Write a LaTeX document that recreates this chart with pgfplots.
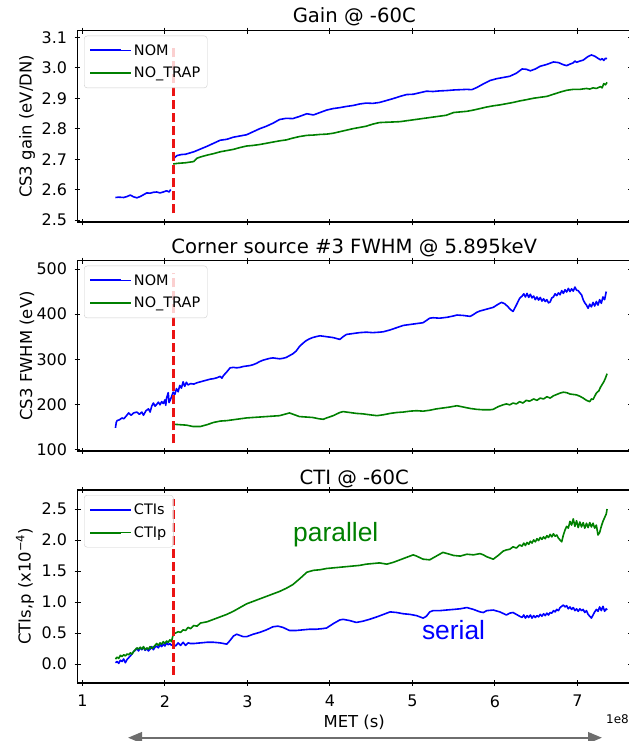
\documentclass[border=0pt]{standalone}
\usepackage{pgfplots}
\pgfplotsset{compat=1.18}
\usepackage{pgfplotstable}
\usetikzlibrary{arrows.meta}
\usepackage{fontspec}
\setmainfont{DejaVu Sans}
\setsansfont{DejaVu Sans}
\newfontfamily\arialfont{Liberation Sans}
\definecolor{mplblue}{RGB}{0,0,255}
\definecolor{mplgreen}{RGB}{0,128,0}
\definecolor{brkred}{RGB}{235,20,20}
\definecolor{arrowgray}{RGB}{110,110,110}
\definecolor{legendgray}{RGB}{204,204,204}

\pgfplotstableread{
x y
1.40 2.574
1.44 2.575
1.50 2.574
1.54 2.577
1.58 2.582
1.62 2.576
1.66 2.573
1.70 2.577
1.74 2.583
1.78 2.589
1.82 2.588
1.86 2.591
1.90 2.592
1.94 2.589
1.98 2.592
2.02 2.596
2.05 2.592
2.07 2.600
2.09 nan
2.10 2.698
2.12 2.706
2.15 2.712
2.20 2.715
2.25 2.716
2.30 2.720
2.35 2.724
2.43 2.733
2.51 2.742
2.59 2.752
2.67 2.762
2.75 2.765
2.83 2.772
2.91 2.776
2.99 2.780
3.07 2.790
3.15 2.800
3.23 2.808
3.31 2.818
3.39 2.830
3.47 2.834
3.55 2.833
3.63 2.840
3.72 2.849
3.80 2.845
3.88 2.853
3.96 2.861
4.04 2.866
4.12 2.869
4.20 2.873
4.28 2.876
4.36 2.881
4.44 2.884
4.52 2.883
4.60 2.886
4.68 2.892
4.77 2.899
4.85 2.906
4.93 2.912
5.01 2.913
5.09 2.918
5.17 2.923
5.25 2.922
5.33 2.924
5.41 2.925
5.50 2.927
5.58 2.928
5.66 2.929
5.72 2.928
5.78 2.935
5.86 2.947
5.94 2.958
6.02 2.964
6.10 2.968
6.18 2.972
6.26 2.982
6.33 2.996
6.38 2.995
6.43 2.990
6.49 2.996
6.55 3.005
6.63 3.011
6.71 3.019
6.77 3.017
6.83 3.010
6.87 3.007
6.91 3.012
6.95 3.016
6.97 3.022
6.99 3.018
7.03 3.022
7.07 3.025
7.13 3.037
7.17 3.042
7.21 3.038
7.25 3.031
7.28 3.026
7.30 3.030
7.32 3.024
7.34 3.031
7.36 3.030
}\gainnom

\pgfplotstableread{
x y
2.10 2.684
2.15 2.686
2.20 2.687
2.25 2.688
2.30 2.690
2.35 2.692
2.39 2.703
2.43 2.707
2.51 2.713
2.59 2.718
2.67 2.724
2.75 2.728
2.83 2.732
2.91 2.738
2.99 2.743
3.07 2.745
3.15 2.748
3.23 2.752
3.31 2.756
3.39 2.760
3.47 2.763
3.55 2.769
3.63 2.774
3.72 2.778
3.80 2.779
3.88 2.781
3.96 2.782
4.04 2.785
4.12 2.790
4.20 2.795
4.28 2.800
4.36 2.804
4.44 2.808
4.52 2.815
4.60 2.820
4.68 2.821
4.77 2.822
4.85 2.823
4.93 2.826
5.01 2.829
5.09 2.832
5.17 2.835
5.25 2.838
5.33 2.841
5.41 2.844
5.50 2.853
5.58 2.855
5.66 2.857
5.74 2.861
5.82 2.866
5.90 2.871
5.98 2.875
6.06 2.878
6.14 2.882
6.22 2.886
6.30 2.891
6.38 2.895
6.47 2.900
6.55 2.903
6.63 2.906
6.71 2.913
6.79 2.920
6.87 2.926
6.95 2.929
7.03 2.929
7.11 2.932
7.15 2.930
7.19 2.934
7.23 2.932
7.28 2.938
7.30 2.934
7.32 2.948
7.34 2.944
7.36 2.952
}\gaintrap

\pgfplotstableread{
x y
1.40 148
1.41 160
1.42 164
1.45 166
1.48 170
1.50 168
1.53 174
1.56 181
1.59 176
1.62 181
1.66 183
1.69 178
1.72 183
1.74 176
1.77 186
1.80 190
1.82 183
1.84 196
1.86 203
1.88 196
1.90 200
1.92 205
1.94 199
1.96 206
1.98 202
2.00 210
2.01 198
2.02 214
2.04 226
2.05 204
2.07 212
2.10 227
2.12 222
2.14 235
2.16 228
2.18 242
2.20 236
2.22 250
2.24 240
2.26 249
2.28 243
2.31 246
2.35 245
2.39 248
2.43 250
2.47 252
2.51 254
2.55 256
2.59 257
2.63 259
2.67 262
2.69 258
2.71 264
2.75 272
2.79 281
2.83 282
2.87 281
2.91 282
2.95 284
2.99 285
3.03 286
3.07 288
3.11 291
3.15 295
3.19 298
3.23 300
3.27 302
3.31 303
3.35 302
3.39 301
3.43 302
3.47 304
3.51 308
3.55 312
3.59 318
3.63 328
3.67 335
3.71 341
3.75 345
3.79 348
3.83 350
3.88 352
3.92 351
3.96 350
4.00 349
4.04 348
4.08 346
4.12 344
4.16 350
4.20 355
4.28 357
4.36 359
4.44 360
4.52 359
4.60 360
4.65 361
4.73 365
4.81 370
4.89 375
4.97 377
5.05 379
5.13 381
5.17 386
5.21 391
5.25 392
5.33 391
5.42 393
5.50 396
5.54 398
5.62 397
5.70 395
5.74 399
5.78 404
5.82 407
5.90 411
5.98 415
6.04 422
6.08 426
6.12 423
6.16 416
6.19 410
6.22 406
6.26 420
6.30 435
6.33 440
6.35 445
6.37 438
6.39 446
6.41 437
6.43 444
6.45 436
6.47 440
6.49 432
6.51 438
6.53 431
6.55 437
6.57 429
6.59 434
6.61 428
6.63 432
6.65 425
6.67 427
6.69 436
6.71 438
6.73 445
6.75 441
6.77 447
6.79 443
6.81 452
6.83 446
6.85 454
6.87 449
6.89 457
6.91 450
6.93 456
6.95 451
6.97 460
6.99 453
7.01 452
7.03 447
7.05 443
7.07 432
7.09 425
7.11 420
7.13 413
7.15 422
7.17 416
7.19 426
7.21 418
7.23 428
7.25 420
7.27 432
7.29 424
7.31 438
7.33 432
7.35 450
}\fwhmnom

\pgfplotstableread{
x y
2.10 156
2.18 155
2.26 154
2.34 151
2.43 151
2.51 155
2.59 160
2.67 163
2.75 164
2.83 166
2.91 168
2.99 170
3.07 171
3.15 172
3.23 173
3.31 174
3.39 175
3.45 178
3.51 181
3.57 177
3.63 173
3.71 172
3.79 171
3.87 168
3.92 167
3.96 170
4.04 175
4.12 182
4.16 184
4.24 182
4.32 180
4.40 179
4.48 177
4.57 175
4.65 177
4.73 180
4.81 182
4.89 183
4.97 185
5.05 186
5.13 185
5.21 187
5.29 190
5.37 192
5.45 194
5.54 197
5.62 194
5.70 191
5.78 189
5.86 188
5.94 188
5.98 189
6.04 195
6.10 199
6.14 201
6.18 199
6.22 203
6.26 201
6.30 206
6.34 203
6.38 209
6.42 207
6.47 212
6.51 209
6.55 214
6.59 212
6.63 217
6.67 214
6.71 219
6.75 222
6.79 225
6.83 227
6.87 226
6.91 223
6.95 222
6.99 221
7.03 218
7.07 214
7.11 209
7.15 206
7.17 212
7.19 211
7.21 218
7.23 225
7.26 230
7.28 238
7.30 244
7.32 250
7.34 258
7.36 268
}\fwhmtrap

\pgfplotstableread{
x y
1.40 0.02
1.42 0.04
1.44 0.01
1.46 0.06
1.48 0.04
1.50 0.08
1.52 0.02
1.54 0.07
1.56 0.10
1.58 0.13
1.60 0.16
1.62 0.20
1.64 0.22
1.66 0.25
1.68 0.21
1.70 0.26
1.72 0.23
1.74 0.27
1.76 0.22
1.78 0.25
1.80 0.21
1.82 0.24
1.84 0.28
1.86 0.23
1.88 0.27
1.90 0.29
1.92 0.26
1.94 0.31
1.96 0.28
1.98 0.32
2.00 0.29
2.02 0.34
2.04 0.31
2.06 0.33
2.08 0.30
2.10 0.32
2.13 0.29
2.16 0.34
2.19 0.30
2.22 0.35
2.25 0.30
2.28 0.34
2.31 0.33
2.35 0.33
2.43 0.34
2.51 0.35
2.59 0.35
2.67 0.34
2.75 0.32
2.79 0.38
2.83 0.45
2.87 0.48
2.91 0.46
2.95 0.44
2.99 0.44
3.07 0.48
3.15 0.51
3.23 0.55
3.31 0.60
3.37 0.61
3.43 0.59
3.51 0.54
3.59 0.54
3.67 0.55
3.75 0.56
3.83 0.56
3.91 0.57
3.96 0.58
4.04 0.65
4.12 0.71
4.16 0.72
4.24 0.70
4.32 0.67
4.40 0.69
4.48 0.72
4.57 0.76
4.65 0.80
4.73 0.84
4.81 0.83
4.89 0.81
4.97 0.80
5.05 0.78
5.13 0.74
5.17 0.77
5.21 0.84
5.25 0.86
5.33 0.86
5.41 0.87
5.50 0.88
5.58 0.89
5.66 0.91
5.74 0.88
5.82 0.84
5.86 0.83
5.90 0.86
5.98 0.87
6.06 0.84
6.14 0.79
6.18 0.82
6.22 0.83
6.26 0.80
6.30 0.77
6.33 0.75
6.35 0.79
6.37 0.74
6.39 0.78
6.41 0.75
6.43 0.79
6.45 0.74
6.47 0.78
6.49 0.75
6.51 0.78
6.53 0.76
6.55 0.80
6.57 0.77
6.59 0.81
6.61 0.78
6.63 0.82
6.65 0.79
6.67 0.83
6.69 0.82
6.71 0.86
6.73 0.84
6.75 0.88
6.77 0.86
6.79 0.91
6.81 0.93
6.83 0.95
6.85 0.92
6.87 0.94
6.89 0.89
6.91 0.92
6.93 0.88
6.95 0.91
6.97 0.86
6.99 0.89
7.01 0.85
7.03 0.89
7.05 0.86
7.07 0.88
7.09 0.83
7.11 0.86
7.13 0.80
7.15 0.77
7.17 0.74
7.19 0.79
7.21 0.84
7.23 0.88
7.25 0.85
7.27 0.92
7.29 0.86
7.31 0.93
7.33 0.85
7.35 0.89
7.36 0.87
}\ctis

\pgfplotstableread{
x y
1.40 0.08
1.42 0.11
1.44 0.09
1.46 0.14
1.48 0.12
1.50 0.15
1.52 0.13
1.54 0.16
1.56 0.15
1.58 0.18
1.60 0.16
1.62 0.20
1.64 0.23
1.66 0.26
1.68 0.24
1.70 0.27
1.72 0.24
1.74 0.28
1.76 0.23
1.78 0.26
1.80 0.24
1.82 0.28
1.84 0.25
1.86 0.27
1.88 0.30
1.90 0.33
1.92 0.30
1.94 0.34
1.96 0.32
1.98 0.36
2.00 0.33
2.02 0.37
2.04 0.35
2.06 0.39
2.08 0.36
2.10 0.48
2.13 0.50
2.16 0.52
2.19 0.51
2.22 0.55
2.25 0.54
2.28 0.59
2.31 0.57
2.35 0.62
2.39 0.61
2.43 0.66
2.51 0.68
2.59 0.72
2.67 0.76
2.75 0.80
2.83 0.85
2.91 0.91
2.99 0.97
3.07 1.01
3.15 1.05
3.23 1.09
3.31 1.13
3.39 1.17
3.47 1.22
3.55 1.28
3.63 1.37
3.68 1.43
3.72 1.48
3.80 1.51
3.88 1.52
3.96 1.54
4.04 1.55
4.12 1.56
4.20 1.57
4.28 1.58
4.36 1.59
4.44 1.61
4.52 1.62
4.60 1.63
4.69 1.61
4.77 1.64
4.85 1.68
4.93 1.72
5.01 1.76
5.05 1.74
5.13 1.69
5.21 1.68
5.29 1.74
5.37 1.80
5.45 1.77
5.50 1.75
5.58 1.74
5.66 1.77
5.74 1.76
5.82 1.78
5.86 1.76
5.90 1.73
5.98 1.69
6.04 1.75
6.10 1.82
6.14 1.84
6.18 1.85
6.22 1.89
6.26 1.87
6.30 1.92
6.33 1.90
6.35 1.95
6.37 1.91
6.39 1.96
6.41 1.93
6.43 1.98
6.45 1.95
6.47 2.00
6.49 1.97
6.51 2.02
6.53 1.99
6.55 2.04
6.57 2.01
6.59 2.05
6.61 2.02
6.63 2.07
6.65 2.04
6.67 2.09
6.69 2.05
6.71 2.10
6.73 2.06
6.75 2.08
6.77 2.03
6.79 2.00
6.81 1.97
6.83 2.08
6.85 2.16
6.87 2.22
6.89 2.19
6.91 2.30
6.93 2.24
6.95 2.34
6.97 2.22
6.99 2.31
7.01 2.20
7.03 2.29
7.05 2.21
7.07 2.28
7.09 2.19
7.11 2.27
7.13 2.20
7.15 2.28
7.17 2.21
7.19 2.27
7.21 2.19
7.23 2.24
7.25 2.08
7.27 2.12
7.29 2.22
7.31 2.30
7.33 2.36
7.35 2.42
7.36 2.50
}\ctip

\pgfplotstableread{
x y
2.104 2.522
2.104 3.075
}\brkgain
\pgfplotstableread{
x y
2.104 113.7
2.104 490.5
}\brkfwhm
\pgfplotstableread{
x y
2.104 -0.177
2.104 2.656
}\brkcti

\pgfplotsset{
  panel/.style={
    scale only axis,
    width=553.5bp,
    xmin=0.94, xmax=7.65,
    xtick={1,2,3,4,5,6,7},
    xtick pos=both, ytick pos=both,
    tick align=center,
    major tick length=6bp,
    every tick/.style={black, line width=0.9bp},
    axis line style={line width=1.6bp},
    tick label style={font=\fontsize{16}{19}\selectfont},
    yticklabel style={xshift=-4bp},
    xticklabel style={yshift=-6bp},
    /pgf/number format/assume math mode=true,
    unbounded coords=jump,
    ylabel style={font=\fontsize{16.5}{19}\selectfont, anchor=center},
    title style={font=\fontsize{19.7}{23}\selectfont, at={(axis description cs:0.5,1)}, anchor=base},
    legend style={at={(0,1)}, anchor=north west, xshift=6.5bp, yshift=-5bp,
      draw=legendgray, rounded corners=3bp, fill=white, fill opacity=0.8, text opacity=1,
      font=\fontsize{14.5}{17}\selectfont, inner xsep=5bp, inner ysep=6.5bp, row sep=6.6bp,
      cells={anchor=west}},
    legend image code/.code={\draw[#1, line width=2bp] (0bp,0bp) -- (31bp,0bp); \path (0bp,0bp) -- (41bp,0bp);},
    legend cell align=left,
  },
  nom/.style={mplblue, line width=1.6bp, line join=round},
  trap/.style={mplgreen, line width=1.6bp, line join=round},
  brkline/.style={draw=brkred, line width=2.6bp, dash pattern=on 9bp off 4bp},
}

\begin{document}
\begin{tikzpicture}
\begin{axis}[panel,
  at={(77.5bp,518.7bp)}, anchor=south west, height=191.6bp,
  ymin=2.4925, ymax=3.1217,
  ytick={2.5,2.6,2.7,2.8,2.9,3.0,3.1},
  yticklabel style={/pgf/number format/.cd, fixed, fixed zerofill, precision=1},
  xticklabels={},
  ylabel={CS3 gain (eV/DN)}, ylabel style={at={(axis description cs:-0.0912,0.5)}},
  title={Gain @ -60C}, title style={yshift=1.9bp},
]
\addplot[nom] table[x=x,y=y] {\gainnom};
\addlegendentry{NOM}
\addplot[trap] table[x=x,y=y] {\gaintrap};
\addlegendentry{NO\_TRAP}
\addplot[brkline] table[x=x,y=y] {\brkgain};
\end{axis}

\begin{axis}[panel,
  at={(77.5bp,290bp)}, anchor=south west, height=190.3bp,
  ymin=96.7, ymax=518.4,
  ytick={100,200,300,400,500},
  xticklabels={},
  ylabel={CS3 FWHM (eV)}, ylabel style={at={(axis description cs:-0.0912,0.5)}},
  title={Corner source \#3 FWHM @ 5.895keV}, title style={yshift=1.3bp},
]
\addplot[nom] table[x=x,y=y] {\fwhmnom};
\addlegendentry{NOM}
\addplot[trap] table[x=x,y=y] {\fwhmtrap};
\addlegendentry{NO\_TRAP}
\addplot[brkline] table[x=x,y=y] {\brkfwhm};
\end{axis}

\begin{axis}[panel,
  at={(77.5bp,58.3bp)}, anchor=south west, height=192.7bp,
  ymin=-0.302, ymax=2.806,
  ytick={0,0.5,1,1.5,2,2.5},
  yticklabel style={/pgf/number format/.cd, fixed, fixed zerofill, precision=1},
  xticklabels={1,2,3,4,5,6,7},
  xlabel={MET (s)},
  xlabel style={font=\fontsize{16.5}{19}\selectfont, at={(axis description cs:0.5,0)}, anchor=center, yshift=-40bp},
  ylabel={CTIs,p (x10\textsuperscript{−4})}, ylabel style={at={(axis description cs:-0.0949,0.5)}},
  title={CTI @ -60C}, title style={yshift=-0.5bp},
]
\addplot[nom] table[x=x,y=y] {\ctis};
\addlegendentry{CTIs}
\addplot[trap] table[x=x,y=y] {\ctip};
\addlegendentry{CTIp}
\addplot[brkline] table[x=x,y=y] {\brkcti};
\node[anchor=base west, text=mplgreen, font=\arialfont\fontsize{26.5}{30}\selectfont, inner sep=0pt] at (axis cs:3.553,1.973) {parallel};
\node[anchor=base west, text=mplblue, font=\arialfont\fontsize{26.5}{30}\selectfont, inner sep=0pt] at (axis cs:5.114,0.398) {serial};
\end{axis}

\node[anchor=east, font=\fontsize{12}{14}\selectfont, inner sep=0pt] at (629bp,22bp) {1e8};
\draw[line width=2.2bp, arrowgray, {Triangle[length=14bp,width=11bp]}-{Triangle[length=14bp,width=11bp]}] (128bp,3.3bp) -- (602bp,3.3bp);

\pgfresetboundingbox
\path[use as bounding box] (0bp,0bp) rectangle (629bp,741bp);
\end{tikzpicture}
\end{document}
